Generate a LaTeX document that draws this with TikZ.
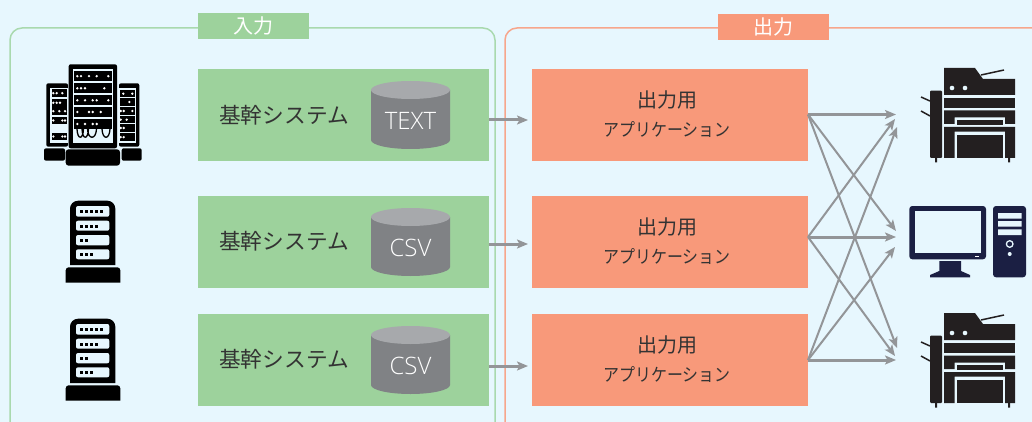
\documentclass[tikz,border=0pt]{standalone}
\usepackage{fontspec}
\setmainfont{Noto Sans CJK JP}
\newfontfamily\latinfont{Open Sans Light}[BoldFont={Open Sans}]
\usetikzlibrary{arrows.meta}
\definecolor{bgc}{HTML}{E7F7FE}
\definecolor{greenbox}{HTML}{9DD29C}
\definecolor{greenline}{HTML}{A9D9AE}
\definecolor{orangebox}{HTML}{F8997A}
\definecolor{orangeline}{HTML}{F7A68C}
\definecolor{arrowc}{HTML}{939598}
\definecolor{cylbody}{HTML}{808285}
\definecolor{cyltop}{HTML}{A7A9AC}
\definecolor{inkc}{HTML}{231F20}
\definecolor{navyc}{HTML}{1B1F43}
\definecolor{textc}{HTML}{333333}
\tikzset{
  sysbox/.style={fill=greenbox,draw=none,minimum width=291pt,minimum height=92pt,inner sep=0pt},
  outbox/.style={fill=orangebox,draw=none,minimum width=276pt,minimum height=92pt,inner sep=0pt},
  sectag/.style={minimum width=111pt,minimum height=26pt,inner sep=0pt,text=white,font=\fontsize{20}{20}\selectfont},
  systext/.style={text=textc,font=\fontsize{21.7}{22}\selectfont,inner sep=0pt},
  apptitle/.style={text=textc,font=\fontsize{20}{20}\selectfont,inner sep=0pt},
  appsub/.style={text=textc,font=\fontsize{18}{20}\selectfont,inner sep=0pt,xscale=0.885,transform shape},
  cyltext/.style={text=white,font=\fontsize{24}{24}\selectfont\latinfont,inner sep=0pt},
  link/.style={draw=arrowc,line width=2pt,-{Stealth[length=11pt,width=9pt,inset=2.5pt]}},
  mainlink/.style={link,line width=3pt},
  hole/.style={fill=bgc,draw=none},
  ink/.style={fill=inkc,draw=none},
  navy/.style={fill=navyc,draw=none},
}
\newcommand{\cylinderat}[2]{%
  \fill[cylbody] (#1-39.5,#2-9) -- (#1-39.5,#2+41) arc[start angle=180,end angle=360,x radius=39.5pt,y radius=9pt] -- (#1+39.5,#2-9) -- cycle;
  \fill[cyltop] (#1,#2-9) ellipse[x radius=39.5pt,y radius=9pt];
}
\newcommand{\dotrow}[2]{\foreach \dx in {#2}{\fill[white] (\dx,#1) circle[radius=1.3pt];}}
\newcommand{\smallserver}[1]{%
  \begin{scope}[yshift=-#1pt]
  \fill[black] (70,265) [rounded corners=8pt] -- (70,200.7) -- (115.3,200.7) [sharp corners] -- (115.3,265) -- cycle;
  \fill[black] (65.7,282.7) [rounded corners=3pt] -- (65.7,267.3) -- (120.3,267.3) [sharp corners] -- (120.3,282.7) -- cycle;
  \foreach \ya/\yb in {206/216.7,220.7/230.7,235/245.3,249.3/259.3}{
    \fill[hole,rounded corners=2pt] (76,\ya) rectangle (109.3,\yb);}
  \foreach \dy/\dl in {211.3/{81.3,86.7,91.7,96.7,101.7},226/{81.3,86.7,91.7,96.7},240.3/{81.3,86.7},254.7/{81.3,86.7,91.7}}{
    \foreach \dx in \dl {\fill[black] (\dx-1.5,\dy-1.5) rectangle (\dx+1.5,\dy+1.5);}}
  \end{scope}
}
\newcommand{\printer}[1]{%
  \begin{scope}[yshift=-#1pt]
  \draw[inkc,line width=1.5pt] (981,75) -- (1004,70);
  \fill[ink] (944,95) -- (944,68) -- (975,68) -- (983,79) -- (1015,79) -- (1015,95) -- cycle;
  \fill[hole] (952,88) circle[radius=2.3pt] (965,88) circle[radius=2.3pt];
  \fill[ink] (944,98) rectangle (1015,108);
  \fill[ink] (944,110.5) -- (1015,110.5) -- (1015,124) -- (1005,124) -- (1005,117.5) -- (954.5,117.5) -- (954.5,124) -- (944,124) -- cycle;
  \fill[ink] (957,120) rectangle (1003,125);
  \fill[ink] (944,127) -- (1015,127) -- (1015,158) -- (1005,158) -- (1005,131.7) -- (954.5,131.7) -- (954.5,158) -- (944,158) -- cycle;
  \fill[ink] (957,135) rectangle (1003,158);
  \fill[ink,rounded corners=1pt] (930,90.7) rectangle (942,158);
  \fill[ink] (935,158) rectangle (937,162.5) (1008,158) rectangle (1010,162.5);
  \draw[inkc,line width=1.5pt] (921,97) -- (930,101) (921,111) -- (930,116);
  \end{scope}
}
\begin{document}
\begin{tikzpicture}[x=1pt,y=-1pt]
\useasboundingbox (0,0) rectangle (1032,422);
\clip (0,0) rectangle (1032,422);
\fill[bgc] (0,0) rectangle (1032,422);
% frames
\draw[greenline,line width=1.5pt,rounded corners=12pt] (10,440) -- (10,28) -- (495,28) -- (495,440);
\draw[orangeline,line width=1.5pt,rounded corners=12pt] (505,440) -- (505,28) -- (1050,28) -- (1050,440);
\node[sectag,fill=greenbox] (intag) at (253.5,26) {入力};
\node[sectag,fill=orangebox] (outtag) at (773,27) {出力};
% system boxes
\node[sysbox] (sysa) at (343.5,115) {};
\node[sysbox] (sysb) at (343.5,242) {};
\node[sysbox] (sysc) at (343.5,360) {};
\node[systext] (sysat) at (284,115) {基幹システム};
\node[systext] (sysbt) at (284,241) {基幹システム};
\node[systext] (sysct) at (284,359) {基幹システム};
\cylinderat{410.5}{99}
\cylinderat{410.5}{226}
\cylinderat{410.5}{344}
\node[cyltext] (cyla) at (410.5,120.5) {TEXT};
\node[cyltext] (cylb) at (410.5,247.5) {CSV};
\node[cyltext] (cylc) at (410.5,365.5) {CSV};
% output boxes
\node[outbox] (outa) at (670,115) {};
\node[outbox] (outb) at (670,242) {};
\node[outbox] (outc) at (670,360) {};
\node[apptitle] (titlea) at (667,100) {出力用};
\node[apptitle] (titleb) at (667,227) {出力用};
\node[apptitle] (titlec) at (667,345) {出力用};
\node[appsub] (suba) at (667,129.5) {アプリケーション};
\node[appsub] (subb) at (667,256.5) {アプリケーション};
\node[appsub] (subc) at (667,374.5) {アプリケーション};
% links
\coordinate (inaout) at (489,120);
\coordinate (inbout) at (489,244);
\coordinate (incout) at (489,366);
\coordinate (inaend) at (528,120);
\coordinate (inbend) at (528,244);
\coordinate (incend) at (528,366);
\draw[mainlink] (inaout) -- (inaend);
\draw[mainlink] (inbout) -- (inbend);
\draw[mainlink] (incout) -- (incend);
\coordinate (oa) at (808,114.5);
\coordinate (ob) at (808,237);
\coordinate (oc) at (808,360);
\coordinate (paa) at (896,114.5);
\coordinate (pab) at (895,119);
\coordinate (pac) at (897,127);
\coordinate (mba) at (896,231);
\coordinate (mbb) at (896,237);
\coordinate (mbc) at (895,247);
\coordinate (qca) at (897,348);
\coordinate (qcb) at (895,356);
\coordinate (qcc) at (896,360);
\draw[link] (oa) -- (mba);
\draw[link] (oa) -- (qca);
\draw[link] (ob) -- (pab);
\draw[link] (ob) -- (qcb);
\draw[link] (oc) -- (pac);
\draw[link] (oc) -- (mbc);
\draw[mainlink] (oa) -- (paa);
\draw[mainlink] (ob) -- (mbb);
\draw[mainlink] (oc) -- (qcc);
% large server group
\fill[black,rounded corners=2pt] (46.3,83.3) rectangle (68,146.7);
\fill[hole] (49.7,87.7) rectangle (68,143.3);
\foreach \ya/\yb in {89.3/97,99/106.7,107.3/115,116.7/124.3,132.7/140.3}{\fill[black] (51.7,\ya) rectangle (67,\yb);}
\dotrow{93.2}{53.3,56.7,62.3}
\dotrow{102.8}{53.3,56.7,60}
\dotrow{111.2}{53.3,59.3,65}
\dotrow{120.5}{53.3,62.3,65}
\dotrow{136.5}{53.3,62.3,65}
\fill[black,rounded corners=2pt] (119,83.3) rectangle (139.3,146.7);
\fill[hole] (119,87.7) rectangle (135.7,143.3);
\foreach \ya/\yb in {90/97.3,98.3/105.7,107.3/114.7,116/123.3,124.3/131.7,133.3/141}{\fill[black] (119.7,\ya) rectangle (135,\yb);}
\dotrow{93.7}{123.3,132.3}
\dotrow{102}{129.3}
\dotrow{111}{120.7,123.7,132.3}
\dotrow{119.7}{120.7,126.7}
\dotrow{128}{120.7,123.7}
\dotrow{137.2}{120.7,123.7}
\fill[black,rounded corners=2pt] (44,148.3) rectangle (65,160.7);
\fill[black,rounded corners=2pt] (121.7,148.3) rectangle (141.7,160.7);
\fill[black,rounded corners=2pt] (68.7,64.3) rectangle (117,148.3);
\fill[hole] (72.7,69.3) rectangle (113.3,142.7);
\foreach \ya/\yb in {71.3/81,83.3/93.3,95.3/105.3,107/117,118.7/129.3}{\fill[black] (74.3,\ya) rectangle (111.7,\yb);}
\dotrow{76.2}{77.3,81,89,96.7,108.3}
\dotrow{88.3}{77.3,81,85,104.3}
\dotrow{100.3}{77.3,85,92.7,96.7,108.3}
\dotrow{112}{77.3,89,92.7,100.7}
\dotrow{124}{77.3,85,92.7,96.7}
\draw[black,line width=1.3pt] (77,129) .. controls (77.5,140) and (83,140) .. (83.5,129)
  (82,129) .. controls (82.5,140) and (88,140) .. (88.5,129)
  (87.5,129) .. controls (88,140) and (96,140) .. (96.5,129)
  (102,129) .. controls (102.5,140) and (109.5,140) .. (110,129);
\fill[black,rounded corners=3pt] (65.7,149.3) rectangle (120,165.7);
% small servers
\smallserver{0}
\smallserver{118}
% printers
\printer{0}
\printer{245}
% computer
\fill[navy,rounded corners=3pt] (909.3,206) rectangle (986,259.3);
\fill[hole] (915,210.7) rectangle (981.3,253.3);
\fill[white] (975,255.7) rectangle (979,257);
\fill[navy] (939.3,261) -- (961,261) -- (961,271) -- (970,275) -- (970,277.3) -- (930,277.3) -- (930,275) -- (939.3,271) -- cycle;
\fill[navy,rounded corners=3pt] (993,206) rectangle (1026,277.3);
\fill[hole] (998,213) rectangle (1021.7,218.7) (998,221) rectangle (1021.7,226.7) (998,229.3) rectangle (1021.7,235);
\draw[bgc,line width=1.3pt] (1009.7,244) circle[radius=3.3pt];
\fill[hole] (1009.7,254) circle[radius=2pt];
\end{tikzpicture}
\end{document}
